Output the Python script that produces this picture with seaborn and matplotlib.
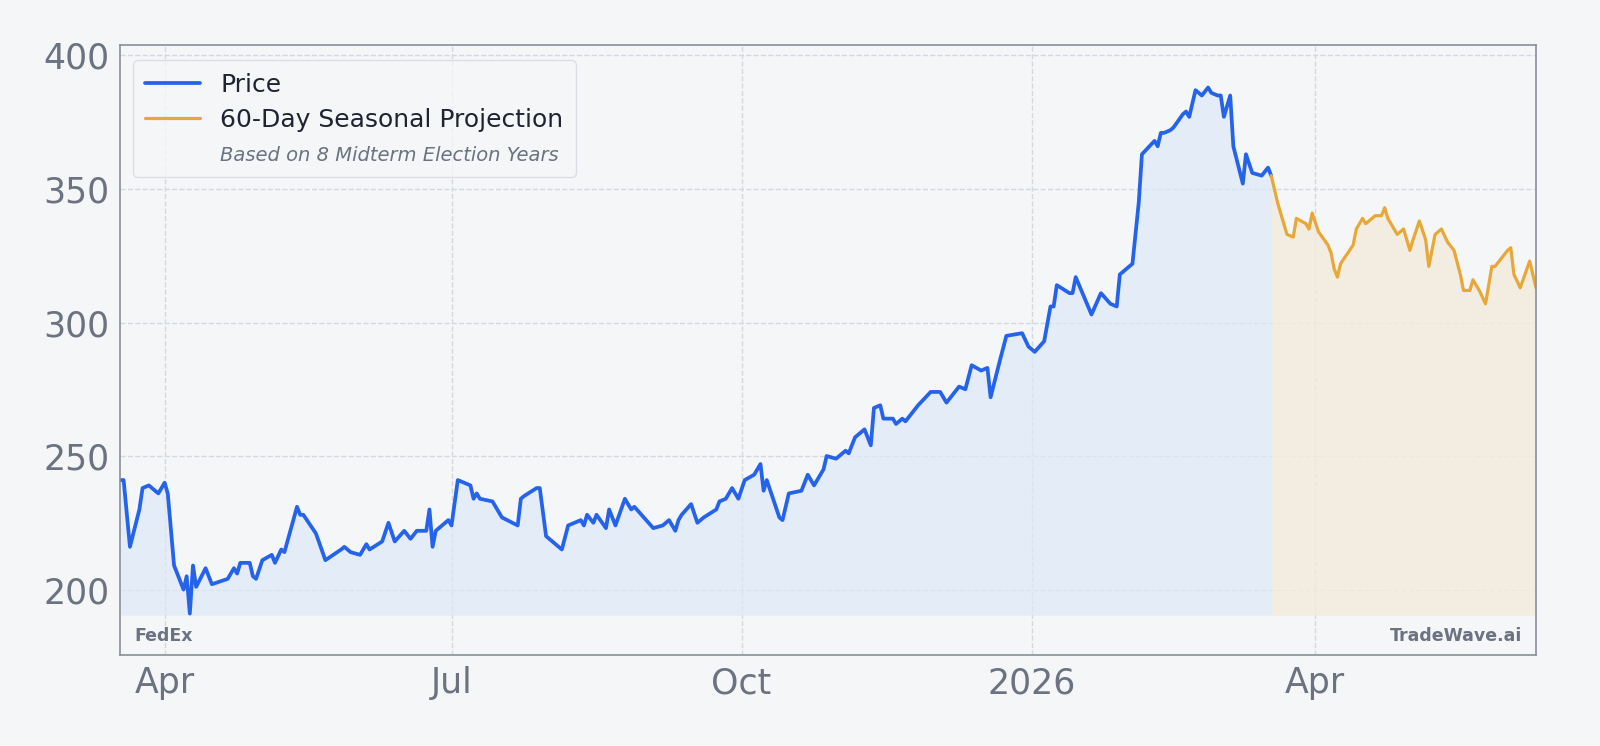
import matplotlib
matplotlib.use("Agg")
import matplotlib.pyplot as plt
from matplotlib.lines import Line2D
import seaborn as sns
import pandas as pd

start = pd.Timestamp("2025-03-18")
price_days = [0,1,3,6,7,9,12,14,15,17,20,21,22,23,24,27,29,34,36,37,38,41,42,43,45,48,49,51,52,56,57,58,62,65,70,71,73,76,78,79,83,85,87,90,92,94,97,98,99,100,104,105,107,111,112,113,114,118,120,121,126,127,128,132,133,135,140,142,146,147,148,150,151,154,155,157,160,162,163,169,172,174,176,177,178,181,183,185,189,190,192,194,196,198,201,203,204,205,209,210,212,216,218,220,223,224,227,230,231,233,236,238,239,241,242,245,246,248,249,253,257,260,262,266,268,270,273,275,276,279,281,286,288,290,293,295,296,297,301,302,303,308,311,314,316,317,319,321,323,324,328,329,330,331,333,334,337,338,339,341,343,345,346,348,349,350,352,353,356,357,359,362,364,365]
price_vals = [241,241,216,230,238,239,236,240,236,209,200,205,191,209,201,208,202,204,208,206,210,210,205,204,211,213,210,215,214,231,228,228,221,211,215,216,214,213,217,215,218,225,218,222,219,222,222,230,216,222,226,224,241,239,234,236,234,233,229,227,224,234,235,238,238,220,215,224,226,224,228,225,228,223,230,224,234,230,231,223,224,226,222,226,228,232,225,227,230,233,234,238,234,241,243,247,237,241,227,226,236,237,243,239,245,250,249,252,251,257,260,254,268,269,264,264,262,264,263,269,274,274,270,276,275,284,282,283,272,286,295,296,291,289,293,306,306,314,311,311,317,303,311,307,306,318,320,322,345,363,368,366,371,371,372,373,378,379,377,387,385,388,386,385,385,377,385,366,352,363,356,355,358,355]
proj_days = [365,367,370,372,373,376,377,378,380,383,384,385,386,387,391,392,394,395,398,400,401,402,405,407,409,410,412,414,415,417,419,421,423,425,426,428,429,431,433,435,436,440,441,442,444,447,449]
proj_vals = [355,345,333,332,339,337,335,341,334,329,326,320,317,322,329,335,339,337,340,340,343,339,333,335,327,331,338,331,321,333,335,330,327,318,312,312,316,312,307,321,321,327,328,318,313,323,313]

price = pd.DataFrame({"date": start + pd.to_timedelta(price_days, unit="D"), "value": price_vals})
proj = pd.DataFrame({"date": start + pd.to_timedelta(proj_days, unit="D"), "value": proj_vals})

bg = "#f4f6f8"
sns.set_theme(style="whitegrid")
plt.rcParams["font.family"] = ["DejaVu Sans"]
fig = plt.figure(figsize=(16, 7.46), dpi=100, facecolor=bg)
ax = fig.add_axes([0.0753, 0.122, 0.8847, 0.818])
ax.set_facecolor(bg)

base = 190.4
ax.fill_between(price["date"], price["value"], base, color="#dce9f7", alpha=0.7, lw=0)
ax.fill_between(proj["date"], proj["value"], base, color="#f3eadc", alpha=0.8, lw=0)
sns.lineplot(data=price, x="date", y="value", ax=ax, color="#2563eb", lw=2.7)
sns.lineplot(data=proj, x="date", y="value", ax=ax, color="#e8a838", lw=2.3)

ax.set_xlim(start, start + pd.Timedelta(days=449))
ax.set_ylim(175.5, 404)
ax.set_yticks([200, 250, 300, 350, 400])
ticks = [pd.Timestamp(d) for d in ["2025-04-01", "2025-07-01", "2025-10-01", "2026-01-01", "2026-04-01"]]
ax.set_xticks(ticks)
ax.set_xticklabels(["Apr", "Jul", "Oct", "2026", "Apr"])
ax.tick_params(axis="both", labelsize=25, colors="#6b7280", length=0, pad=8)
ax.set_xlabel("")
ax.set_ylabel("")
ax.grid(True, ls="--", color="#d5d9df", lw=1)
for s in ax.spines.values():
    s.set_color("#8a8f99")
    s.set_linewidth(1.2)

handles = [Line2D([], [], color="#2563eb", lw=2.7),
           Line2D([], [], color="#e8a838", lw=2.3),
           Line2D([], [], color="none")]
leg = ax.legend(handles, ["Price", "60-Day Seasonal Projection", "Based on 8 Midterm Election Years"],
                loc="upper left", fontsize=18, frameon=True, facecolor=bg, edgecolor="#d5d9df",
                borderpad=0.5, handlelength=2.2, labelspacing=0.45, bbox_to_anchor=(0.0, 0.995))
t = leg.get_texts()[2]
t.set_fontsize(14)
t.set_style("italic")
t.set_color("#6b7280")
for tt in leg.get_texts()[:2]:
    tt.set_color("#1f2430")

ax.text(0.01, 0.023, "FedEx", transform=ax.transAxes, fontsize=12.5, fontweight="bold", color="#6b7280")
ax.text(0.99, 0.023, "TradeWave.ai", transform=ax.transAxes, fontsize=12.5, fontweight="bold",
        color="#6b7280", ha="right")

fig.savefig("out.png", dpi=100, facecolor=bg)
